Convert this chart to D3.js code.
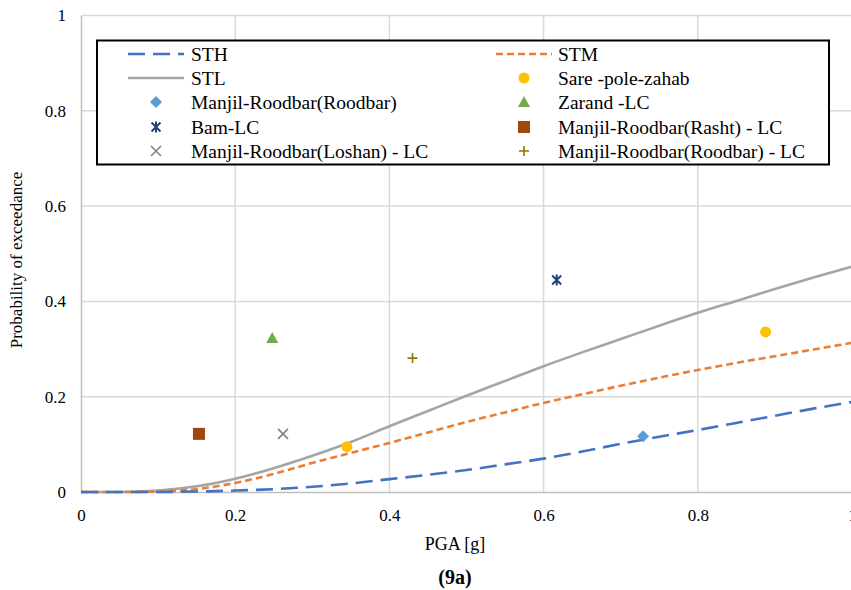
<!DOCTYPE html>
<html>
<head>
<meta charset="utf-8">
<script src="https://cdn.jsdelivr.net/npm/d3@7"></script>
<style>
  html, body { margin: 0; padding: 0; background: #fff; }
  svg { display: block; }
</style>
</head>
<body>
<svg id="chart" width="851" height="590"></svg>
<script>
// Fragility curves: PGA [g] vs probability of exceedance
const pga = [0, 0.05, 0.1, 0.15, 0.2, 0.25, 0.3, 0.35, 0.4, 0.45, 0.5, 0.55, 0.6, 0.65, 0.7, 0.75, 0.8, 0.85, 0.9, 0.95, 1.0];
const sth = [0, 0, 0, 0.001, 0.003, 0.006, 0.011, 0.018, 0.027, 0.036, 0.046, 0.058, 0.070, 0.085, 0.101, 0.116, 0.130, 0.145, 0.160, 0.175, 0.189];
const stm = [0, 0, 0.001, 0.006, 0.019, 0.038, 0.061, 0.082, 0.103, 0.125, 0.147, 0.167, 0.187, 0.205, 0.223, 0.240, 0.256, 0.271, 0.285, 0.299, 0.313];
const stl = [0, 0, 0.003, 0.012, 0.028, 0.050, 0.076, 0.105, 0.138, 0.170, 0.202, 0.233, 0.264, 0.293, 0.321, 0.349, 0.376, 0.401, 0.426, 0.450, 0.473];

// Observed damage points
const obsNames = [
  "Sare -pole-zahab", "Sare -pole-zahab",
  "Manjil-Roodbar(Roodbar)", "Zarand -LC", "Bam-LC",
  "Manjil-Roodbar(Rasht) - LC", "Manjil-Roodbar(Loshan) - LC", "Manjil-Roodbar(Roodbar) - LC"
];
const obsPga  = [0.345, 0.888, 0.729, 0.248, 0.617, 0.153, 0.262, 0.430];
const obsProb = [0.095, 0.336, 0.117, 0.323, 0.445, 0.122, 0.122, 0.281];

const xTicks = [0, 0.2, 0.4, 0.6, 0.8, 1];
const yTicks = [0, 0.2, 0.4, 0.6, 0.8, 1];

const FONT = "'Liberation Serif', Tinos, 'Times New Roman', 'Noto Serif', FreeSerif, 'DejaVu Serif', serif";

// Style per series name
const styles = {
  "STH": { kind: "line", color: "#4472C4", dash: "17,8" },
  "STM": { kind: "line", color: "#ED7D31", dash: "7,4" },
  "STL": { kind: "line", color: "#A5A5A5", dash: null },
  "Sare -pole-zahab": { kind: "circle", color: "#FFC000" },
  "Manjil-Roodbar(Roodbar)": { kind: "diamond", color: "#5B9BD5" },
  "Zarand -LC": { kind: "triangle", color: "#70AD47" },
  "Bam-LC": { kind: "star", color: "#264478" },
  "Manjil-Roodbar(Rasht) - LC": { kind: "square", color: "#9E480E" },
  "Manjil-Roodbar(Loshan) - LC": { kind: "cross", color: "#7F7F7F" },
  "Manjil-Roodbar(Roodbar) - LC": { kind: "plus", color: "#997300" }
};

const legendOrder = [
  ["STH", "STM"],
  ["STL", "Sare -pole-zahab"],
  ["Manjil-Roodbar(Roodbar)", "Zarand -LC"],
  ["Bam-LC", "Manjil-Roodbar(Rasht) - LC"],
  ["Manjil-Roodbar(Loshan) - LC", "Manjil-Roodbar(Roodbar) - LC"]
];

const svg = d3.select("#chart");
const x = d3.scaleLinear().domain([0, 1]).range([81, 852]);
const y = d3.scaleLinear().domain([0, 1]).range([492, 15.5]);

// Gridlines
const grid = svg.append("g");
grid.selectAll("line.h").data(yTicks.slice(1)).join("line")
  .attr("x1", x(0)).attr("x2", x(1))
  .attr("y1", d => y(d)).attr("y2", d => y(d))
  .attr("stroke", "#D9D9D9").attr("stroke-width", 1.5);
grid.selectAll("line.v").data(xTicks.slice(1)).join("line")
  .attr("x1", d => x(d)).attr("x2", d => x(d))
  .attr("y1", y(0)).attr("y2", y(1))
  .attr("stroke", "#D9D9D9").attr("stroke-width", 1.5);

// Axes
const xAxis = svg.append("g").attr("transform", `translate(0,${y(0)})`)
  .call(d3.axisBottom(x).tickValues(xTicks).tickSize(0).tickPadding(17).tickFormat(d3.format("")));
const yAxis = svg.append("g").attr("transform", `translate(${x(0)},0)`)
  .call(d3.axisLeft(y).tickValues(yTicks).tickSize(0).tickPadding(15).tickFormat(d3.format("")));
[xAxis, yAxis].forEach(a => {
  a.attr("font-family", FONT).attr("font-size", 17);
  a.select(".domain").attr("stroke", "#BFBFBF").attr("stroke-width", 1.5);
  a.selectAll("text").attr("fill", "#000");
});

// Curves
const lineGen = d3.line().x(d => x(d[0])).y(d => y(d[1])).curve(d3.curveMonotoneX);
const curves = [["STL", stl], ["STM", stm], ["STH", sth]];
curves.forEach(([name, vals]) => {
  const st = styles[name];
  svg.append("path")
    .datum(pga.map((p, i) => [p, vals[i]]))
    .attr("d", lineGen)
    .attr("fill", "none")
    .attr("stroke", st.color)
    .attr("stroke-width", 2.6)
    .attr("stroke-dasharray", st.dash);
});

// Marker drawing
function drawMarker(g, kind, color) {
  switch (kind) {
    case "circle":
      g.append("circle").attr("r", 5.5).attr("fill", color); break;
    case "diamond":
      g.append("path").attr("d", "M0,-6L6,0L0,6L-6,0Z").attr("fill", color); break;
    case "triangle":
      g.append("path").attr("d", "M0,-6L6,5L-6,5Z").attr("fill", color); break;
    case "square":
      g.append("rect").attr("x", -6).attr("y", -6).attr("width", 12).attr("height", 12).attr("fill", color); break;
    case "star":
      g.append("path").attr("d", "M-4.5,-4.5L4.5,4.5M-4.5,4.5L4.5,-4.5M0,-5.5L0,5.5")
        .attr("stroke", color).attr("stroke-width", 2).attr("fill", "none"); break;
    case "cross":
      g.append("path").attr("d", "M-5,-5L5,5M-5,5L5,-5")
        .attr("stroke", color).attr("stroke-width", 1.5).attr("fill", "none"); break;
    case "plus":
      g.append("path").attr("d", "M-5,0L5,0M0,-5L0,5")
        .attr("stroke", color).attr("stroke-width", 1.6).attr("fill", "none"); break;
  }
}

obsNames.forEach((n, i) => {
  const st = styles[n];
  const g = svg.append("g").attr("transform", `translate(${x(obsPga[i])},${y(obsProb[i])})`);
  drawMarker(g, st.kind, st.color);
});

// Legend
const leg = svg.append("g");
leg.append("rect").attr("x", 97).attr("y", 40.5).attr("width", 732).attr("height", 124)
  .attr("fill", "#fff").attr("stroke", "#000").attr("stroke-width", 2);
const colSym = [156, 524];
const colText = [191, 558];
const rowY = [54, 78, 102, 127, 151];
legendOrder.forEach((row, r) => {
  row.forEach((name, c) => {
    const st = styles[name];
    const cy = rowY[r];
    if (st.kind === "line") {
      leg.append("line").attr("x1", colSym[c] - 28).attr("x2", colSym[c] + 28)
        .attr("y1", cy).attr("y2", cy)
        .attr("stroke", st.color).attr("stroke-width", 2.6)
        .attr("stroke-dasharray", st.dash);
    } else {
      const g = leg.append("g").attr("transform", `translate(${colSym[c]},${cy})`);
      drawMarker(g, st.kind, st.color);
    }
    leg.append("text").attr("x", colText[c]).attr("y", cy).attr("dy", "0.35em")
      .attr("font-family", FONT).attr("font-size", 19.5).attr("fill", "#000").text(name);
  });
});

// Axis titles and caption
svg.append("text").attr("x", 455).attr("y", 550).attr("text-anchor", "middle")
  .attr("font-family", FONT).attr("font-size", 18).attr("fill", "#000").text("PGA [g]");
svg.append("text").attr("transform", "translate(22,260) rotate(-90)")
  .attr("text-anchor", "middle").attr("font-family", FONT).attr("font-size", 17).attr("fill", "#000")
  .text("Probability of exceedance");
svg.append("text").attr("x", 455).attr("y", 584).attr("text-anchor", "middle")
  .attr("font-family", FONT).attr("font-size", 20).attr("font-weight", "bold").attr("fill", "#000")
  .text("(9a)");
</script>
</body>
</html>
